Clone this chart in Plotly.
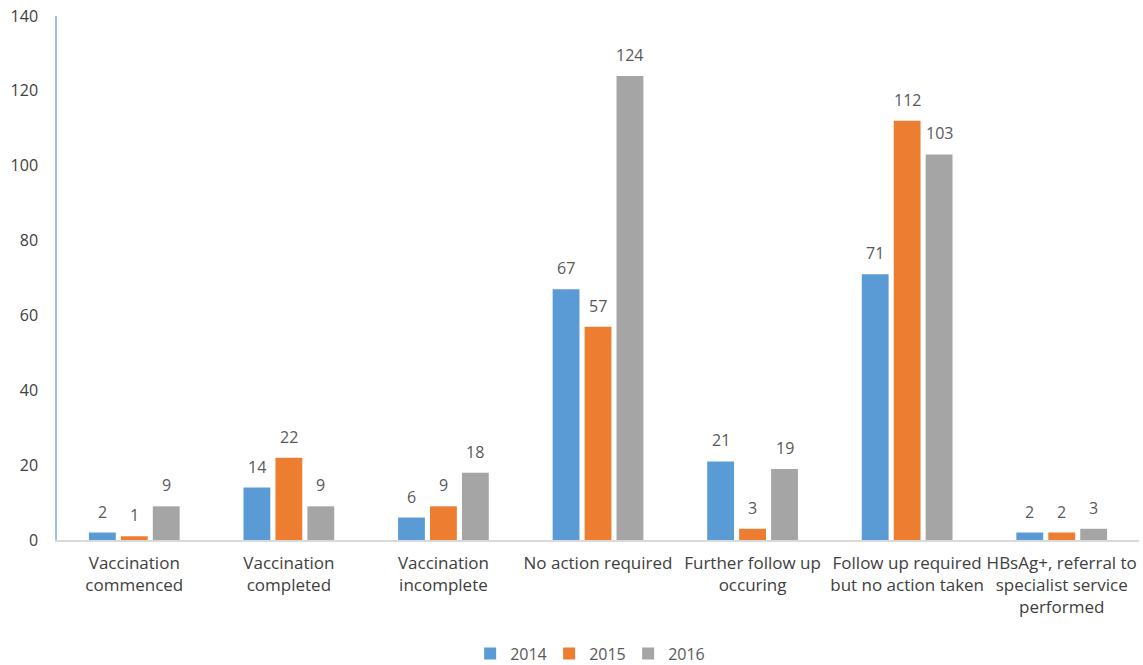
import plotly.graph_objects as go

categories = [
    "Vaccination<br>commenced",
    "Vaccination<br>completed",
    "Vaccination<br>incomplete",
    "No action required",
    "Further follow up<br>occuring",
    "Follow up required<br>but no action taken",
    "HBsAg+, referral to<br>specialist service<br>performed",
]
years = ["2014", "2015", "2016"]
values_2014 = [2, 14, 6, 67, 21, 71, 2]
values_2015 = [1, 22, 9, 57, 3, 112, 2]
values_2016 = [9, 9, 18, 124, 19, 103, 3]
colors = ["#5b9bd5", "#ed7d31", "#a5a5a5"]

font_family = "Open Sans, Liberation Sans, sans-serif"
text_color = "#595959"

W, H = 1143, 665
M_L, M_R, M_T, M_B = 57, 4, 16, 125
BARGAP, GROUPGAP = 0.38, 0.16

series = [values_2014, values_2015, values_2016]

fig = go.Figure()
for name, vals, col in zip(years, series, colors):
    fig.add_trace(go.Bar(
        name=name,
        x=categories,
        y=vals,
        marker=dict(color=col, line=dict(width=0)),
        cliponaxis=False,
    ))

# value labels above each bar, offset horizontally to the bar's slot in its group
cat_px = (W - M_L - M_R) / len(categories)
slot_px = cat_px * (1 - BARGAP) / len(series)
annotations = []
for i, vals in enumerate(series):
    for cat, v in zip(categories, vals):
        annotations.append(dict(
            x=cat, y=v, xref="x", yref="y",
            text=str(v), showarrow=False,
            xshift=(i - 1) * slot_px, yshift=21,
            yanchor="middle",
            font=dict(size=16, color=text_color, family=font_family),
        ))

fig.update_layout(
    barmode="group",
    bargap=BARGAP,
    bargroupgap=GROUPGAP,
    width=W,
    height=H,
    margin=dict(l=M_L, r=M_R, t=M_T, b=M_B, autoexpand=False),
    plot_bgcolor="white",
    paper_bgcolor="white",
    font=dict(family=font_family, size=16, color=text_color),
    showlegend=True,
    legend=dict(
        orientation="h",
        xref="container", x=0.515, xanchor="center",
        yref="container", y=0.017, yanchor="middle",
        font=dict(size=16, color=text_color),
        itemwidth=30,
        entrywidth=34,
    ),
    annotations=annotations,
)
fig.update_yaxes(
    range=[0, 140],
    dtick=20,
    showgrid=False,
    zeroline=False,
    showline=True,
    linecolor="#9dc3e6",
    linewidth=1.5,
    ticks="",
    ticklabelstandoff=14,
    tickfont=dict(size=16, color="#404040"),
    automargin=False,
)
fig.update_xaxes(
    showgrid=False,
    showline=True,
    linecolor="#d9d9d9",
    linewidth=1.5,
    ticks="",
    tickfont=dict(size=17, color="#404040"),
    ticklabelstandoff=7,
    automargin=False,
)

fig.write_html("out.html")
